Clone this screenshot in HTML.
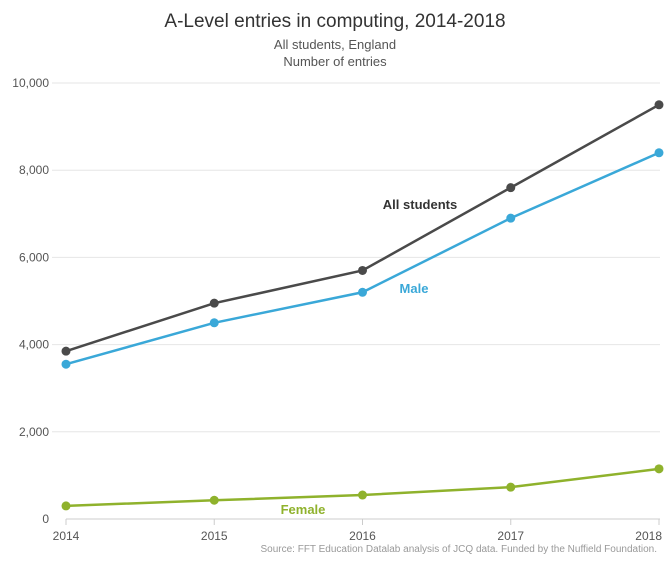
<!DOCTYPE html>
<html><head><meta charset="utf-8"><style>
body{margin:0;background:#fff;font-family:"Liberation Sans",sans-serif;}
svg text{font-family:"Liberation Sans",sans-serif;}
</style></head><body>
<svg width="670" height="558" viewBox="0 0 670 558">
<text x="335" y="27" text-anchor="middle" font-size="19" fill="#333">A-Level entries in computing, 2014-2018</text>
<text x="335" y="49" text-anchor="middle" font-size="13" fill="#555">All students, England</text>
<text x="335" y="66" text-anchor="middle" font-size="13" fill="#555">Number of entries</text>
<g id="grid"></g><g id="lines"></g>
<text x="420" y="209" text-anchor="middle" font-size="13" font-weight="bold" fill="#333">All students</text>
<text x="414" y="293" text-anchor="middle" font-size="13" font-weight="bold" fill="#3aa8d8">Male</text>
<text x="303" y="514" text-anchor="middle" font-size="13" font-weight="bold" fill="#8fb22c">Female</text>
<text x="657" y="552" text-anchor="end" font-size="10" fill="#999">Source: FFT Education Datalab analysis of JCQ data. Funded by the Nuffield Foundation.</text>
</svg>
<script>
const years=["2014","2015","2016","2017","2018"];
const allStudents=[3850,4950,5700,7600,9500];
const male=[3550,4500,5200,6900,8400];
const female=[300,430,550,730,1150];
const yTicks=[0,2000,4000,6000,8000,10000];
const yTickLabels=["0","2,000","4,000","6,000","8,000","10,000"];
const NS="http://www.w3.org/2000/svg";
const x=i=>66+i*148.25;
const y=v=>519-v*0.0436;
function mk(t,a,p){const e=document.createElementNS(NS,t);for(const k in a)e.setAttribute(k,a[k]);p.appendChild(e);return e;}
const g=document.getElementById('grid');
yTicks.forEach((v,i)=>{
 if(v>0){const l=mk('line',{x1:52,x2:660,y1:y(v),y2:y(v),stroke:'#e6e6e6','stroke-width':1},g);
 
 }
 const t=mk('text',{x:49,y:y(v)+4,'text-anchor':'end','font-size':12,fill:'#555'},g);t.textContent=yTickLabels[i];
 
 
});
const ax=mk('line',{x1:66,x2:660,y1:y(0),y2:y(0),stroke:'#ccc'},g);


years.forEach((yr,i)=>{
 const tk=mk('line',{x1:x(i),x2:x(i),y1:y(0),y2:y(0)+6,stroke:'#ccc'},g);
 
 
 const last=i===years.length-1;
 const t=mk('text',{x:last?x(i)+3:x(i),y:540,'text-anchor':last?'end':'middle','font-size':12,fill:'#555'},g);t.textContent=yr;
 
 
});
const L=document.getElementById('lines');
[[allStudents,'#4a4a4a','all-students'],[male,'#3aa8d8','male'],[female,'#8fb22c','female']].forEach(([d,c,n])=>{
 const p=mk('polyline',{points:d.map((v,i)=>x(i)+','+y(v)).join(' '),fill:'none',stroke:c,'stroke-width':2.5},L);
 
 
 d.forEach((v,i)=>{const cc=mk('circle',{cx:x(i),cy:y(v),r:4.5,fill:c},L);
 
 });
});
</script>
</body></html>
